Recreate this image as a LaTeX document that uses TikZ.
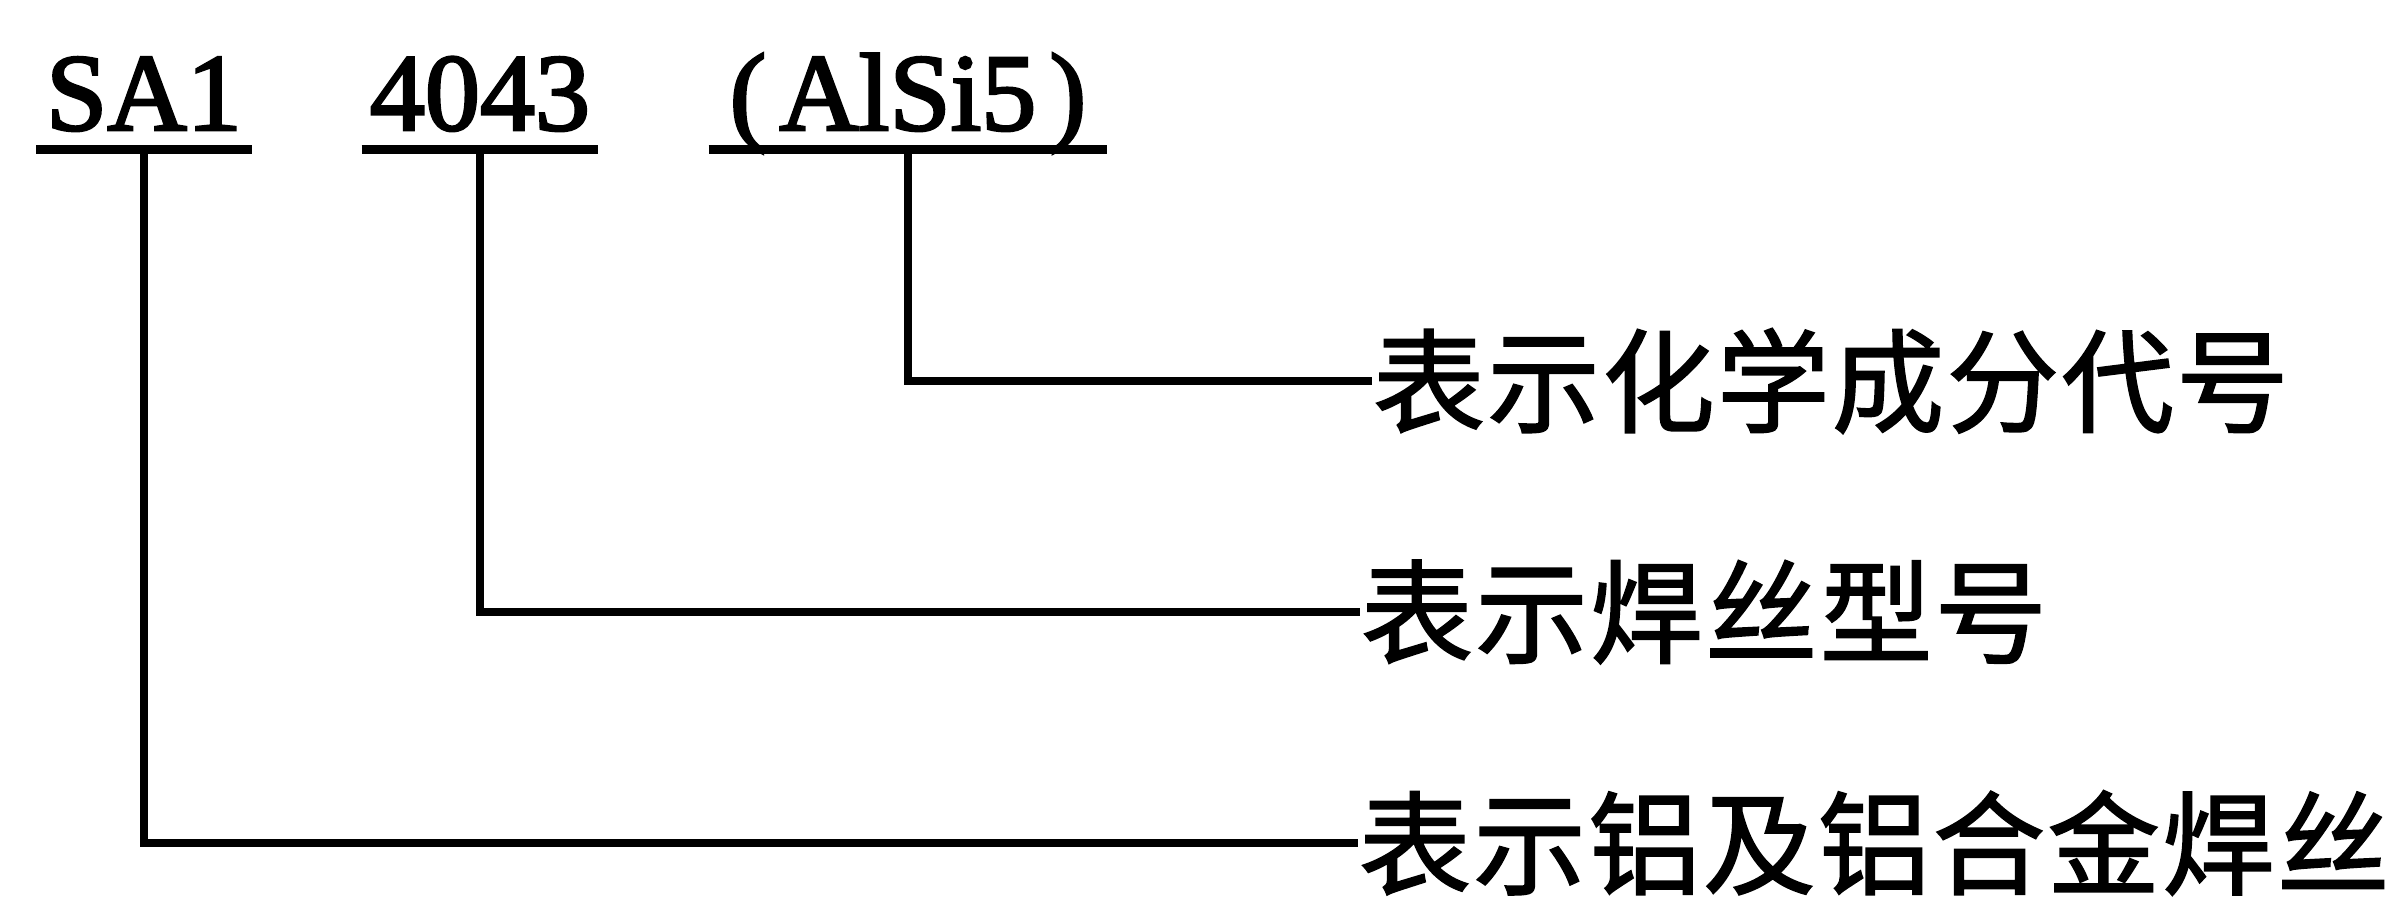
\documentclass[tikz,border=0pt]{standalone}
\usepackage{fontspec}
\setmainfont[FakeBold=2.5,AutoFakeBold=2.5]{Liberation Serif}
\newfontfamily\cjk[LetterSpace=2,FakeBold=1.5,AutoFakeBold=1.5]{Noto Sans CJK SC}
\begin{document}
\begin{tikzpicture}[x=0.01cm, y=-0.01cm,
        wire/.style={line width=2.5pt},
        code/.style={inner xsep=0pt, inner ysep=0pt, text depth=0.19cm, anchor=base,
            font=\bfseries\fontsize{31.3}{36}\selectfont},
        meaning/.style={inner sep=0pt, anchor=west, font=\cjk\bfseries\fontsize{32}{38}\selectfont}]
        \useasboundingbox (0,0) rectangle (2398,898);

        \node[code, minimum width=2.14cm] (sa) at (144,130) {SA1};
        \node[code, minimum width=2.35cm] (num) at (480,130) {4043};
        \node[code, minimum width=3.97cm] (alsi) at (908,130) {(\kern0.12em AlSi5\kern0.12em)};

        \node[meaning] (chem) at (1372,381) {表示化学成分代号};
        \node[meaning] (type) at (1360,612) {表示焊丝型号};
        \node[meaning] (alu) at (1358,843) {表示铝及铝合金焊丝};

        \draw[wire] (sa.south west) -- (sa.south east);
        \draw[wire] (num.south west) -- (num.south east);
        \draw[wire] (alsi.south west) -- (alsi.south east);

        \draw[wire] (alsi.south) |- (chem.west);
        \draw[wire] (num.south) |- (type.west);
        \draw[wire] (sa.south) |- (alu.west);
    \end{tikzpicture}
\end{document}
